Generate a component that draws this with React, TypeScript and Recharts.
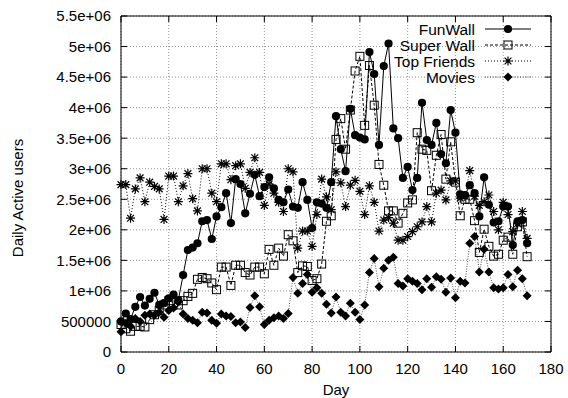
import React from 'react';
import { LineChart, Line, XAxis, YAxis, CartesianGrid, ReferenceArea, Legend } from 'recharts';

// day index (every second day)
const days = [
  0, 2, 4, 6, 8, 10, 12, 14, 16, 18,
  20, 22, 24, 26, 28, 30, 32, 34, 36, 38,
  40, 42, 44, 46, 48, 50, 52, 54, 56, 58,
  60, 62, 64, 66, 68, 70, 72, 74, 76, 78,
  80, 82, 84, 86, 88, 90, 92, 94, 96, 98,
  100, 102, 104, 106, 108, 110, 112, 114, 116, 118,
  120, 122, 124, 126, 128, 130, 132, 134, 136, 138,
  140, 142, 144, 146, 148, 150, 152, 154, 156, 158,
  160, 162, 164, 166, 168, 170,
];

// daily active users, in millions
const funWall = [
  0.5, 0.63, 0.54, 0.74, 0.9, 0.76, 0.87, 0.97, 0.77, 0.8,
  0.88, 0.94, 0.85, 1.26, 1.67, 1.71, 1.78, 2.14, 2.16, 1.85,
  2.22, 2.37, 2.6, 2.11, 2.83, 2.75, 2.27, 2.59, 2.9, 2.55,
  2.7, 2.86, 2.68, 2.49, 2.45, 2.66, 2.38, 2.36, 2.78, 2.49,
  2.03, 2.45, 2.43, 2.36, 2.78, 3.86, 3.32, 2.96, 3.98, 3.55,
  3.51, 3.48, 4.91, 4.55, 3.39, 4.68, 5.05, 3.66, 3.5, 2.85,
  3.03, 2.65, 2.85, 4.08, 3.47, 3.39, 3.75, 3.24, 3.09, 3.96,
  3.59, 2.58, 2.57, 2.73, 2.6, 2.22, 2.86, 2.41, 2.12, 2.14,
  2.38, 2.38, 1.75, 2.14, 2.16, 1.78,
];

const superWall = [
  0.45, 0.38, 0.34, 0.42, 0.42, 0.41, 0.53, 0.61, 0.68, 0.77,
  0.84, 0.81, 0.77, 0.84, 0.91, 0.96, 1.19, 1.22, 1.2, 1.13,
  1.02, 1.39, 1.39, 1.09, 1.42, 1.42, 1.3, 1.26, 1.39, 1.39,
  1.28, 1.68, 1.42, 1.7, 1.57, 1.92, 1.82, 1.3, 1.41, 1.4,
  1.17, 1.2, 1.44, 2.14, 2.23, 3.48, 3.82, 3.32, 3.96, 4.6,
  4.84, 3.71, 4.69, 4.04, 3.07, 2.73, 2.31, 2.31, 2.11, 2.27,
  2.44, 2.49, 3.59, 3.32, 3.3, 2.64, 3.22, 3.56, 2.83, 3.44,
  2.78, 2.23, 2.5, 2.5, 2.15, 1.63, 2.01, 1.73, 1.57, 1.6,
  1.83, 1.88, 1.6, 2.05, 2.13, 1.56,
];

const topFriends = [
  2.74, 2.74, 2.19, 2.67, 2.85, 2.46, 2.78, 2.71, 2.67, 2.17,
  2.88, 2.88, 2.46, 2.72, 2.92, 2.51, 2.31, 3.0, 3.0, 2.6,
  2.46, 3.08, 3.08, 2.82, 3.05, 3.08, 2.68, 2.94, 3.18, 2.94,
  2.4, 2.75, 2.6, 2.45, 2.3, 3.0, 2.95, 1.7, 1.98, 1.98,
  1.73, 2.25, 2.83, 2.54, 2.33, 2.95, 2.77, 2.38, 2.73, 2.81,
  2.63, 2.25, 2.72, 2.45, 1.98, 2.16, 2.2, 2.11, 1.83, 1.83,
  1.89, 1.97, 2.05, 2.13, 2.38, 2.13, 2.6, 2.65, 2.49, 2.8,
  2.8, 2.52, 2.55, 2.97, 2.55, 2.4, 2.46, 2.57, 2.3, 2.0,
  2.45, 2.25, 1.97, 2.1, 2.3, 1.86,
];

const movies = [
  0.33, 0.47, 0.42, 0.55, 0.5, 0.6, 0.62, 0.6, 0.65, 0.57,
  0.68, 0.72, 0.82, 0.62, 0.55, 0.52, 0.48, 0.65, 0.64, 0.52,
  0.47, 0.62, 0.59, 0.58, 0.48, 0.49, 0.4, 0.73, 0.92, 0.74,
  0.45, 0.52, 0.56, 0.59, 0.55, 0.63, 1.22, 0.96, 1.12, 1.27,
  0.98, 1.05, 0.96, 0.78, 0.64, 0.9, 0.65, 0.59, 0.8, 0.65,
  0.53, 0.77, 1.3, 1.53, 1.07, 1.37, 1.5, 1.55, 1.12, 1.08,
  1.2, 1.16, 1.12, 1.02, 1.2, 1.06, 1.23, 1.19, 0.98, 1.21,
  0.89, 1.16, 1.13, 1.78, 1.89, 1.31, 1.68, 1.31, 1.05, 1.03,
  1.05, 1.27, 1.07, 1.34, 1.2, 0.92,
];

const xTicks = [0, 20, 40, 60, 80, 100, 120, 140, 160, 180];
const yTicks = [0, 0.5, 1, 1.5, 2, 2.5, 3, 3.5, 4, 4.5, 5, 5.5];
const yTickLabels = ['0', '500000', '1e+06', '1.5e+06', '2e+06', '2.5e+06', '3e+06', '3.5e+06', '4e+06', '4.5e+06', '5e+06', '5.5e+06'];

const data = days.map((day, i) => ({
  day,
  funWall: funWall[i],
  superWall: superWall[i],
  topFriends: topFriends[i],
  movies: movies[i],
}));

const W = 568;
const H = 398;
const PLOT = { left: 121, right: 551, top: 16, bottom: 352 };
const FONT = '"Liberation Sans", Arial, Helvetica, sans-serif';
const TICK_LEN = 6;

type MarkerKind = 'circle' | 'square' | 'star' | 'diamond';

const series: { key: string; name: string; marker: MarkerKind; dash?: string; width: number; color: string }[] = [
  { key: 'funWall', name: 'FunWall', marker: 'circle', width: 1, color: '#000' },
  { key: 'superWall', name: 'Super Wall', marker: 'square', dash: '3 2', width: 1, color: '#000' },
  { key: 'topFriends', name: 'Top Friends', marker: 'star', dash: '1 2', width: 1, color: '#000' },
  { key: 'movies', name: 'Movies', marker: 'diamond', dash: '1 1.5', width: 0.8, color: '#222' },
];

const Marker = ({ kind, cx, cy }: { kind: MarkerKind; cx: number; cy: number }) => {
  if (kind === 'circle') return <circle cx={cx} cy={cy} r={4.1} fill="#000" />;
  if (kind === 'square')
    return <rect x={cx - 4} y={cy - 4} width={8} height={8} fill="none" stroke="#000" strokeWidth={1} />;
  if (kind === 'star')
    return (
      <path
        d={`M${cx - 4.5},${cy}H${cx + 4.5}M${cx},${cy - 4.5}V${cy + 4.5}M${cx - 3.4},${cy - 3.4}L${cx + 3.4},${cy + 3.4}M${cx - 3.4},${cy + 3.4}L${cx + 3.4},${cy - 3.4}`}
        stroke="#000"
        strokeWidth={1.2}
        fill="none"
      />
    );
  return <path d={`M${cx},${cy - 4.5}L${cx + 4.5},${cy}L${cx},${cy + 4.5}L${cx - 4.5},${cy}Z`} fill="#000" />;
};

const XTick = (props: any) => {
  const { x, y, payload } = props;
  return (
    <g>
      <line x1={x} x2={x} y1={PLOT.bottom} y2={PLOT.bottom - TICK_LEN} stroke="#000" />
      <line x1={x} x2={x} y1={PLOT.top} y2={PLOT.top + TICK_LEN} stroke="#000" />
      <text x={x} y={y + 22} textAnchor="middle" fontSize={15} fontFamily={FONT} fill="#000">
        {payload.value}
      </text>
    </g>
  );
};

const YTick = (props: any) => {
  const { x, y, payload, index } = props;
  return (
    <g>
      <line x1={PLOT.left} x2={PLOT.left + TICK_LEN} y1={y} y2={y} stroke="#000" />
      <line x1={PLOT.right - TICK_LEN} x2={PLOT.right} y1={y} y2={y} stroke="#000" />
      <text x={x - 10} y={y} dy="0.36em" textAnchor="end" fontSize={15} fontFamily={FONT} fill="#000">
        {yTickLabels[index] ?? payload.value}
      </text>
    </g>
  );
};

const LegendBox = () => (
  <svg width={260} height={80} style={{ display: 'block' }}>
    {series.map((s, i) => {
      const y = 13 + i * 16;
      return (
        <g key={s.key}>
          <text x={175} y={y} dy="0.36em" textAnchor="end" fontSize={15.5} fontFamily={FONT} fill="#000">
            {s.name}
          </text>
          <line x1={185} x2={231} y1={y} y2={y} stroke={s.color} strokeWidth={s.width} strokeDasharray={s.dash} />
          <Marker kind={s.marker} cx={208} cy={y} />
        </g>
      );
    })}
  </svg>
);

export default function App() {
  return (
    <div style={{ position: 'absolute', left: 0, top: 0, width: W, height: H, background: '#fff' }}>
      <LineChart
        width={W}
        height={H}
        data={data}
        margin={{ top: PLOT.top, right: W - PLOT.right, bottom: 0, left: 0 }}
      >
        <CartesianGrid stroke="#777" strokeDasharray="1 2" strokeWidth={0.8} />
        <XAxis
          dataKey="day"
          type="number"
          domain={[0, 180]}
          ticks={xTicks}
          height={H - PLOT.bottom}
          tickSize={0}
          tickMargin={0}
          axisLine={false}
          tickLine={false}
          tick={<XTick />}
          interval={0}
          label={{
            content: (p: any) => (
              <text
                x={p.viewBox.x + p.viewBox.width / 2}
                y={p.viewBox.y + 43}
                textAnchor="middle"
                fontSize={15}
                fontFamily={FONT}
                fill="#000"
              >
                Day
              </text>
            ),
          }}
        />
        <YAxis
          type="number"
          domain={[0, 5.5]}
          ticks={yTicks}
          width={PLOT.left}
          tickSize={0}
          tickMargin={0}
          axisLine={false}
          tickLine={false}
          tick={<YTick />}
          interval={0}
          label={{
            content: () => (
              <text
                x={18}
                y={198}
                transform="rotate(-90 18 198)"
                dy="0.36em"
                textAnchor="middle"
                fontSize={15}
                fontFamily={FONT}
                fill="#000"
              >
                Daily Active users
              </text>
            ),
          }}
        />
        <ReferenceArea x1={0} x2={180} y1={0} y2={5.5} fill="none" stroke="#000" strokeWidth={1} fillOpacity={0} />
        {series.map((s) => (
          <Line
            key={s.key}
            dataKey={s.key}
            name={s.name}
            type="linear"
            stroke={s.color}
            strokeWidth={s.width}
            strokeDasharray={s.dash}
            isAnimationActive={false}
            activeDot={false}
            dot={(p: any) =>
              p.cx == null || p.cy == null ? (
                <g key={`${s.key}-${p.index}`} />
              ) : (
                <Marker key={`${s.key}-${p.index}`} kind={s.marker} cx={p.cx} cy={p.cy} />
              )
            }
          />
        ))}
        <Legend
          layout="vertical"
          align="center"
          verticalAlign="middle"
          content={<LegendBox />}
          wrapperStyle={{ position: 'absolute', left: 300, top: 16, width: 260, height: 80 }}
        />
      </LineChart>
    </div>
  );
}
